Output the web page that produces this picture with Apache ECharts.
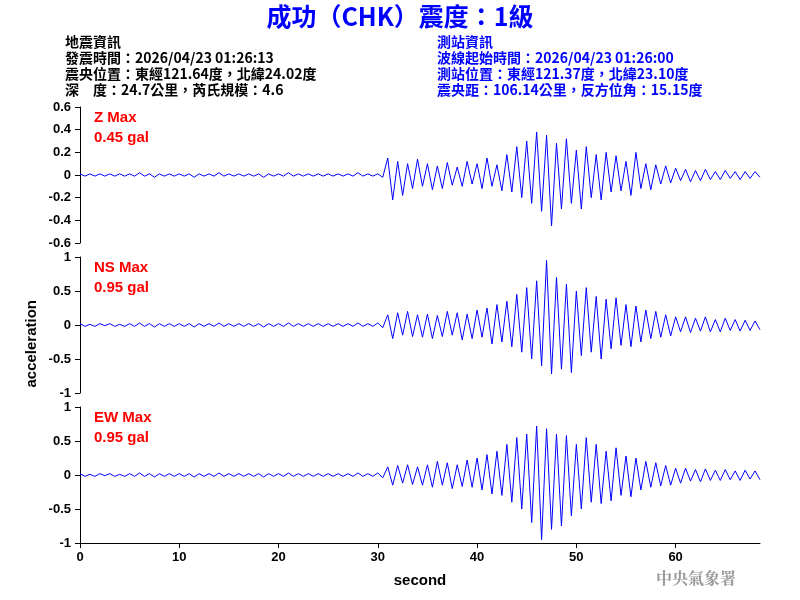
<!DOCTYPE html>
<html>
<head>
<meta charset="utf-8">
<script src="https://cdn.jsdelivr.net/npm/echarts@6/dist/echarts.min.js"></script>
<style>html,body{margin:0;padding:0;background:#fff}#chart{width:800px;height:600px}</style>
</head>
<body>
<div id="chart"></div>
<script>
'use strict';

// time step between samples (seconds)
var step = 0.5;

var zValues = [
    0.01,-0.01,0.01,-0.01,0.01,-0.01,0.01,-0.01,0.01,-0.01,
    0.01,-0.01,0.02,-0.01,0.01,-0.02,0.01,-0.01,0.01,-0.01,
    0.01,-0.01,0.01,-0.02,0.01,-0.01,0.01,-0.01,0.02,-0.01,
    0.01,-0.01,0.01,-0.01,0.01,-0.01,0.01,-0.02,0.01,-0.01,
    0.01,-0.01,0.02,-0.01,0.01,-0.01,0.01,-0.01,0.01,-0.01,
    0.01,-0.01,0.01,-0.01,0.01,-0.01,0.02,-0.01,0.01,-0.01,
    0.01,-0.02,0.15,-0.22,0.12,-0.18,0.10,-0.12,0.14,-0.10,
    0.10,-0.13,0.08,-0.12,0.11,-0.09,0.07,-0.10,0.12,-0.08,
    0.10,-0.12,0.15,-0.10,0.09,-0.14,0.18,-0.15,0.25,-0.20,
    0.30,-0.25,0.38,-0.32,0.35,-0.45,0.28,-0.30,0.32,-0.25,
    0.22,-0.30,0.25,-0.20,0.18,-0.22,0.20,-0.15,0.17,-0.14,
    0.12,-0.18,0.20,-0.12,0.10,-0.13,0.09,-0.08,0.08,-0.07,
    0.06,-0.05,0.05,-0.06,0.04,-0.05,0.05,-0.04,0.03,-0.04,
    0.04,-0.03,0.03,-0.04,0.03,-0.03,0.03,-0.02
];

var nsValues = [
    0.02,-0.02,0.01,-0.02,0.02,-0.01,0.02,-0.02,0.01,-0.02,
    0.02,-0.02,0.03,-0.02,0.02,-0.03,0.02,-0.02,0.02,-0.02,
    0.02,-0.02,0.02,-0.03,0.02,-0.02,0.02,-0.02,0.03,-0.02,
    0.02,-0.02,0.02,-0.02,0.02,-0.02,0.02,-0.03,0.02,-0.02,
    0.02,-0.02,0.03,-0.02,0.02,-0.02,0.02,-0.02,0.02,-0.02,
    0.02,-0.02,0.02,-0.02,0.02,-0.02,0.03,-0.02,0.02,-0.02,
    0.03,-0.04,0.15,-0.20,0.18,-0.15,0.20,-0.17,0.15,-0.18,
    0.16,-0.20,0.14,-0.17,0.20,-0.15,0.18,-0.22,0.16,-0.20,
    0.22,-0.18,0.25,-0.28,0.30,-0.25,0.35,-0.32,0.45,-0.40,
    0.55,-0.50,0.65,-0.60,0.95,-0.72,0.70,-0.65,0.60,-0.70,
    0.50,-0.45,0.55,-0.40,0.42,-0.50,0.38,-0.35,0.40,-0.30,
    0.30,-0.32,0.28,-0.25,0.22,-0.20,0.20,-0.18,0.15,-0.16,
    0.12,-0.10,0.12,-0.11,0.10,-0.09,0.12,-0.10,0.08,-0.10,
    0.10,-0.08,0.08,-0.09,0.07,-0.08,0.06,-0.07
];

var ewValues = [
    0.02,-0.02,0.01,-0.02,0.02,-0.01,0.02,-0.02,0.01,-0.02,
    0.02,-0.02,0.03,-0.02,0.02,-0.03,0.02,-0.02,0.02,-0.02,
    0.02,-0.02,0.02,-0.03,0.02,-0.02,0.02,-0.02,0.03,-0.02,
    0.02,-0.02,0.02,-0.02,0.02,-0.02,0.02,-0.03,0.02,-0.02,
    0.02,-0.02,0.03,-0.02,0.02,-0.02,0.02,-0.02,0.02,-0.02,
    0.02,-0.02,0.02,-0.02,0.02,-0.02,0.03,-0.02,0.02,-0.02,
    0.03,-0.04,0.12,-0.15,0.14,-0.12,0.15,-0.14,0.12,-0.15,
    0.15,-0.18,0.20,-0.15,0.18,-0.20,0.15,-0.17,0.22,-0.18,
    0.25,-0.22,0.30,-0.28,0.35,-0.30,0.45,-0.40,0.55,-0.50,
    0.60,-0.70,0.72,-0.95,0.68,-0.80,0.60,-0.75,0.58,-0.60,
    0.45,-0.50,0.55,-0.40,0.45,-0.42,0.35,-0.38,0.40,-0.30,
    0.28,-0.32,0.25,-0.22,0.20,-0.18,0.18,-0.16,0.14,-0.15,
    0.10,-0.12,0.10,-0.09,0.08,-0.10,0.09,-0.08,0.07,-0.08,
    0.08,-0.07,0.06,-0.08,0.07,-0.06,0.06,-0.07
];

var traceNames = ['Z Max', 'NS Max', 'EW Max'];
var traceMax = ['0.45 gal', '0.95 gal', '0.95 gal'];
var yRanges = [[-0.6, 0.6, 0.2], [-1, 1, 0.5], [-1, 1, 0.5]];

function toPoints(values) {
    var pts = [];
    for (var i = 0; i < values.length; i++) {
        pts.push([i * step, values[i]]);
    }
    return pts;
}

var font = 'Liberation Sans, Arial, sans-serif';
var traces = [zValues, nsValues, ewValues];
var tops = [107, 257, 407];
var grids = [], xAxes = [], yAxes = [], series = [];

for (var k = 0; k < 3; k++) {
    var last = k === 2;
    grids.push({ left: 80, width: 680, top: tops[k], height: 136 });
    xAxes.push({
        gridIndex: k, type: 'value', min: 0, max: 68.5, interval: 10,
        axisLine: { show: last, onZero: false, lineStyle: { color: '#000' } },
        axisTick: { show: last, length: 5, lineStyle: { color: '#000' } },
        axisLabel: { show: last, showMaxLabel: false, color: '#000', fontFamily: font, fontWeight: 'bold', fontSize: 13 },
        splitLine: { show: false },
        name: last ? 'second' : '', nameLocation: 'middle', nameGap: 30,
        nameTextStyle: { color: '#000', fontFamily: font, fontWeight: 'bold', fontSize: 15 }
    });
    yAxes.push({
        gridIndex: k, type: 'value', min: yRanges[k][0], max: yRanges[k][1], interval: yRanges[k][2],
        axisLine: { show: true, lineStyle: { color: '#000' } },
        axisTick: { show: true, length: 5, lineStyle: { color: '#000' } },
        axisLabel: {
            color: '#000', fontFamily: font, fontWeight: 'bold', fontSize: 13, margin: 9,
            formatter: function(v) { return String(Math.round(v * 10) / 10); }
        },
        splitLine: { show: false }
    });
    series.push({
        type: 'line', xAxisIndex: k, yAxisIndex: k, data: toPoints(traces[k]),
        showSymbol: false, silent: true, animation: false,
        lineStyle: { color: '#0000ff', width: 1 }
    });
}

var headLeft = ['地震資訊', '發震時間：2026/04/23 01:26:13', '震央位置：東經121.64度，北緯24.02度', '深　度：24.7公里，芮氏規模：4.6'];
var headRight = ['測站資訊', '波線起始時間：2026/04/23 01:26:00', '測站位置：東經121.37度，北緯23.10度', '震央距：106.14公里，反方位角：15.15度'];

var graphics = [
    { type: 'text', left: 'center', top: 4, style: { text: '成功（CHK）震度：1級', fill: '#0000ff', font: 'bold 25px "Noto Sans CJK TC", sans-serif' } },
    { type: 'text', left: 24, top: 300, rotation: Math.PI / 2, style: { text: 'acceleration', fill: '#000', font: 'bold 15px ' + font, align: 'center', verticalAlign: 'middle' } },
    { type: 'text', left: 656, top: 570, style: { text: '中央氣象署', fill: '#999', font: 'bold 16px "Noto Serif CJK TC", "Noto Sans CJK TC", serif' } }
];
for (var i = 0; i < 4; i++) {
    graphics.push({ type: 'text', left: 65, top: 35 + i * 16, style: { text: headLeft[i], fill: '#000', font: 'bold 14px "Noto Sans CJK TC", sans-serif' } });
    graphics.push({ type: 'text', left: 437, top: 35 + i * 16, style: { text: headRight[i], fill: '#0000ff', font: 'bold 14px "Noto Sans CJK TC", sans-serif' } });
}
for (var j = 0; j < 3; j++) {
    graphics.push({ type: 'text', left: 94, top: tops[j] + 3, style: { text: traceNames[j], fill: '#ff0000', font: 'bold 15px ' + font } });
    graphics.push({ type: 'text', left: 94, top: tops[j] + 23, style: { text: traceMax[j], fill: '#ff0000', font: 'bold 15px ' + font } });
}

var chart = echarts.init(document.getElementById('chart'));
chart.setOption({
    animation: false,
    grid: grids,
    xAxis: xAxes,
    yAxis: yAxes,
    series: series,
    graphic: graphics
});
</script>
</body>
</html>
